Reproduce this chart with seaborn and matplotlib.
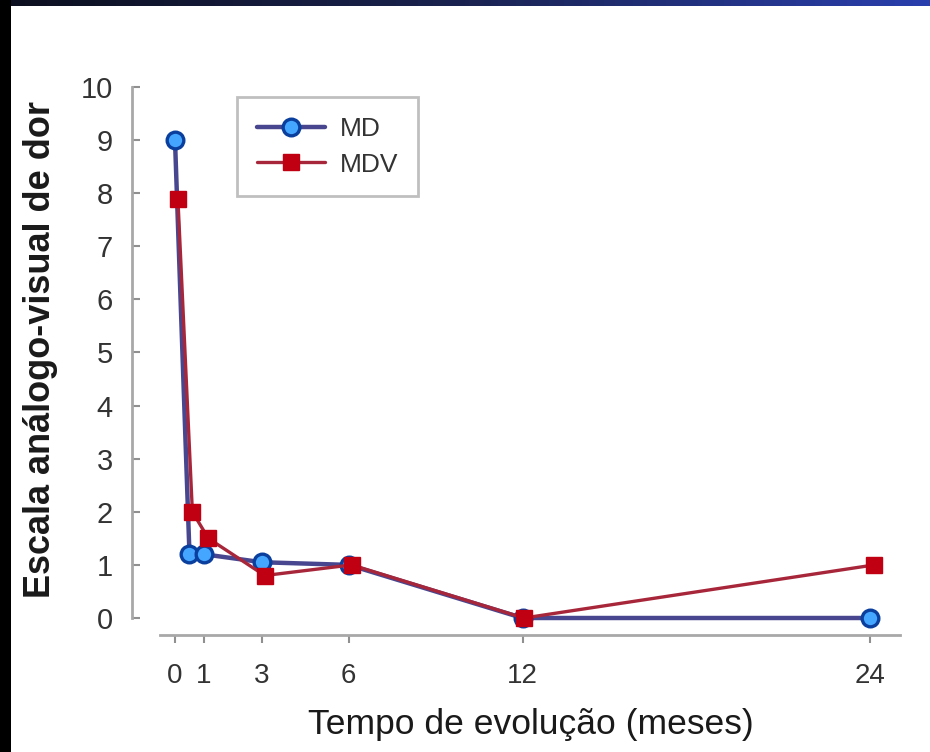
import numpy as np
import pandas as pd
import matplotlib
matplotlib.use("Agg")
import matplotlib.pyplot as plt
import seaborn as sns
from matplotlib.colors import LinearSegmentedColormap

# ---- data ----
md_months = [0, 0.5, 1, 3, 6, 12, 24]
md_values = [9.0, 1.2, 1.2, 1.05, 1.0, 0.0, 0.0]
mdv_months = [0.1, 0.6, 1.15, 3.1, 6.1, 12.05, 24.15]
mdv_values = [7.9, 2.0, 1.5, 0.8, 1.0, 0.0, 1.0]
x_ticks = [0, 1, 3, 6, 12, 24]
y_ticks = list(range(0, 11))
series_names = ["MD", "MDV"]

sns.set_theme(style="white")
plt.rcParams['font.family'] = ['Liberation Sans', 'DejaVu Sans']

W, H = 930, 752
fig = plt.figure(figsize=(W / 100, H / 100), dpi=100, facecolor="white")

left, right, top, bottom = 160, 900, 87, 635
ax = fig.add_axes([left / W, 1 - bottom / H, (right - left) / W, (bottom - top) / H])
ax.set_facecolor("white")

df_md = pd.DataFrame({"x": md_months, "y": md_values})
df_mdv = pd.DataFrame({"x": mdv_months, "y": mdv_values})

sns.lineplot(data=df_md, x="x", y="y", ax=ax, color="#48468f", linewidth=3.2,
             marker="o", markersize=12, markerfacecolor="#45a6ff",
             markeredgecolor="#0b3f9e", markeredgewidth=2.4,
             label=series_names[0], sort=False, zorder=3)
sns.lineplot(data=df_mdv, x="x", y="y", ax=ax, color="#a8263a", linewidth=2.4,
             marker="s", markersize=11, markerfacecolor="#c00012",
             markeredgecolor="#c00012", markeredgewidth=1.0,
             label=series_names[1], sort=False, zorder=4)

ax.set_xlim((left - 175) / 28.96, (right - 175) / 28.96)
ax.set_ylim(-(bottom - 618) / 53.1, 10)

ax.set_xticks(x_ticks)
ax.set_xticklabels([str(t) for t in x_ticks])
ax.set_yticks(y_ticks)
ax.set_yticklabels([str(t) for t in y_ticks])

spine_col = "#a8a8a8"
for s in ["top", "right"]:
    ax.spines[s].set_visible(False)
ax.spines["left"].set_color(spine_col)
ax.spines["left"].set_linewidth(2.0)
ax.spines["left"].set_position(("outward", 20))
ax.spines["left"].set_bounds(0, 10)
ax.spines["bottom"].set_color(spine_col)
ax.spines["bottom"].set_linewidth(2.0)

ax.tick_params(axis="y", direction="in", length=6, width=1.5, color="#909090",
               labelsize=21, labelcolor="#333333", pad=14, left=True)
ax.tick_params(axis="x", direction="out", length=6, width=1.5, color="#909090",
               labelsize=20, labelcolor="#333333", pad=14, bottom=True)

ax.set_xlabel("Tempo de evolução (meses)", fontsize=25.5, color="#1a1a1a")
ax.set_ylabel("Escala análogo-visual de dor", fontsize=26, fontweight="bold",
              color="#1a1a1a")
ax.xaxis.set_label_coords((531 - left) / (right - left), -(708 - bottom) / (bottom - top))
ax.yaxis.set_label_coords((58 - left) / (right - left), (bottom - 349) / (bottom - top))

leg = ax.legend(loc="upper left", bbox_to_anchor=(237 / W, 1 - 97 / H),
                bbox_transform=fig.transFigure, borderaxespad=0, frameon=True,
                fancybox=False, fontsize=19, handlelength=2.6, handletextpad=0.55,
                borderpad=0.75, labelspacing=0.45)
leg.get_frame().set_edgecolor("#b0b0b0")
leg.get_frame().set_linewidth(2.0)
for t in leg.get_texts():
    t.set_color("#333333")

# dark slide borders
gax = fig.add_axes([0, 1 - 6 / H, 1, 6 / H])
grad = np.linspace(0, 1, 256).reshape(1, -1)
cmap = LinearSegmentedColormap.from_list("band", ["#0c0f1e", "#1a2350", "#2a3fae"])
gax.imshow(grad, aspect="auto", cmap=cmap)
gax.axis("off")
lax = fig.add_axes([0, 0, 11 / W, 1])
lax.set_facecolor("black")
lax.set_xticks([]); lax.set_yticks([])
for s in lax.spines.values():
    s.set_visible(False)

fig.savefig("out.png", dpi=100, facecolor="white")
